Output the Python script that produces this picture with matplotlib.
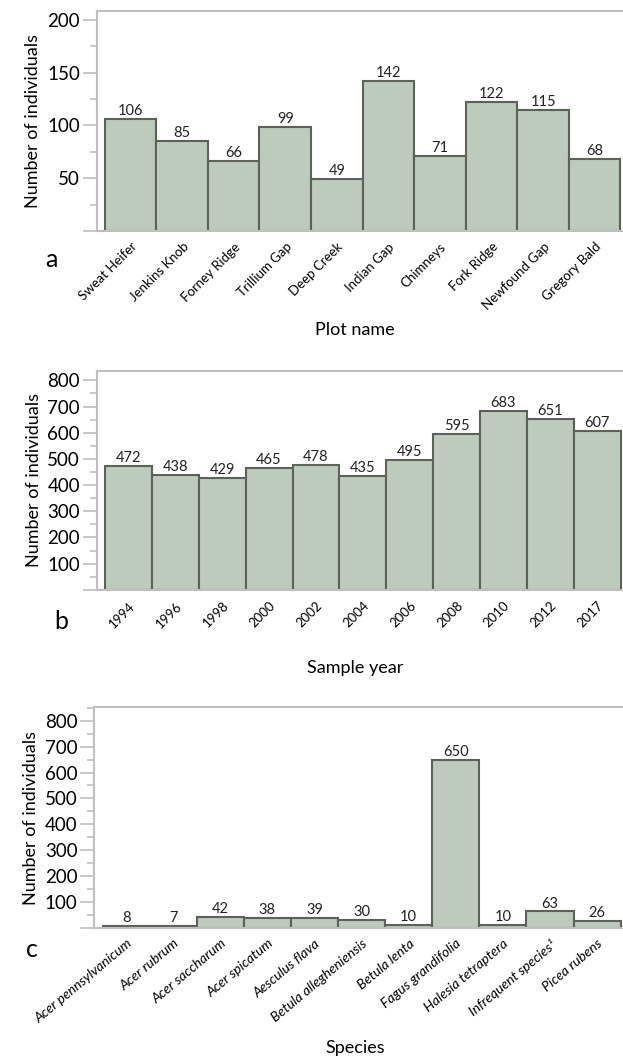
import numpy as np
import matplotlib.pyplot as plt
from matplotlib.ticker import MultipleLocator

plt.rcParams['font.family'] = ['Lato', 'DejaVu Sans']

plots = ['Sweat Heifer', 'Jenkins Knob', 'Forney Ridge', 'Trillium Gap', 'Deep Creek',
         'Indian Gap', 'Chimneys', 'Fork Ridge', 'Newfound Gap', 'Gregory Bald']
plot_counts = [106, 85, 66, 99, 49, 142, 71, 122, 115, 68]

years = ['1994', '1996', '1998', '2000', '2002', '2004', '2006', '2008', '2010', '2012', '2017']
year_counts = [472, 438, 429, 465, 478, 435, 495, 595, 683, 651, 607]

species = ['Acer pennsylvanicum', 'Acer rubrum', 'Acer saccharum', 'Acer spicatum',
           'Aesculus flava', 'Betula allegheniensis', 'Betula lenta', 'Fagus grandifolia',
           'Halesia tetraptera', 'Infrequent species\u00b9', 'Picea rubens']
species_counts = [8, 7, 42, 38, 39, 30, 10, 650, 10, 63, 26]

FILL = '#bccbbb'
EDGE = '#5b6358'
GRID = '#bfbfbf'

fig = plt.figure(figsize=(6.23, 10.59), dpi=100)

def panel(rect, names, vals, ymax, ylim_top, major, minor, xlim, letter, letter_xy,
          xlabel, xlabel_y, italic=False, rot=45, tick_fs=9.5):
    ax = fig.add_axes(rect)
    x = np.arange(len(vals))
    ax.bar(x, vals, width=1.0, color=FILL, edgecolor=EDGE, linewidth=1.5)
    for xi, v in zip(x, vals):
        ax.text(xi, v + ylim_top * 0.004, str(v), ha='center', va='bottom',
                fontsize=10.5, color='#222222')
    ax.set_xlim(*xlim)
    ax.set_ylim(0, ylim_top)
    ax.yaxis.set_major_locator(MultipleLocator(major))
    ax.yaxis.set_minor_locator(MultipleLocator(minor))
    ticks = np.arange(0, ymax + 1, major)
    ax.set_yticks(ticks)
    ax.set_yticklabels([''] + [str(t) for t in ticks[1:]], fontsize=13.5)
    ax.tick_params(axis='y', which='major', length=10, width=1.2, color=GRID, pad=2)
    ax.tick_params(axis='y', which='minor', length=5, width=1.2, color=GRID)
    ax.set_xticks(x)
    ax.set_xticklabels(names, rotation=rot, ha='right', rotation_mode='anchor',
                       fontsize=tick_fs, style='italic' if italic else 'normal')
    ax.tick_params(axis='x', length=0, pad=7)
    for s in ['top', 'left', 'bottom']:
        ax.spines[s].set_color(GRID)
        ax.spines[s].set_linewidth(1.5)
    ax.spines['right'].set_visible(False)
    ax.set_ylabel('Number of individuals', fontsize=13, labelpad=4)
    fig.text(letter_xy[0], letter_xy[1], letter, fontsize=18, ha='center', va='center')
    fig.text(0.57, xlabel_y, xlabel, fontsize=13, ha='center', va='center')
    return ax

panel([0.155, 0.782, 0.845, 0.208], plots, plot_counts, 200, 209, 50, 25,
      (-0.66, 9.55), 'a', (0.083, 0.755), 'Plot name', 0.688)
panel([0.155, 0.443, 0.845, 0.207], years, year_counts, 800, 837, 100, 50,
      (-0.68, 10.55), 'b', (0.098, 0.413), 'Sample year', 0.369)
panel([0.151, 0.124, 0.849, 0.208], species, species_counts, 800, 852, 100, 50,
      (-0.68, 10.55), 'c', (0.052, 0.103), 'Species', 0.01, italic=True, rot=40, tick_fs=10)

plt.savefig('out.png', dpi=100)
